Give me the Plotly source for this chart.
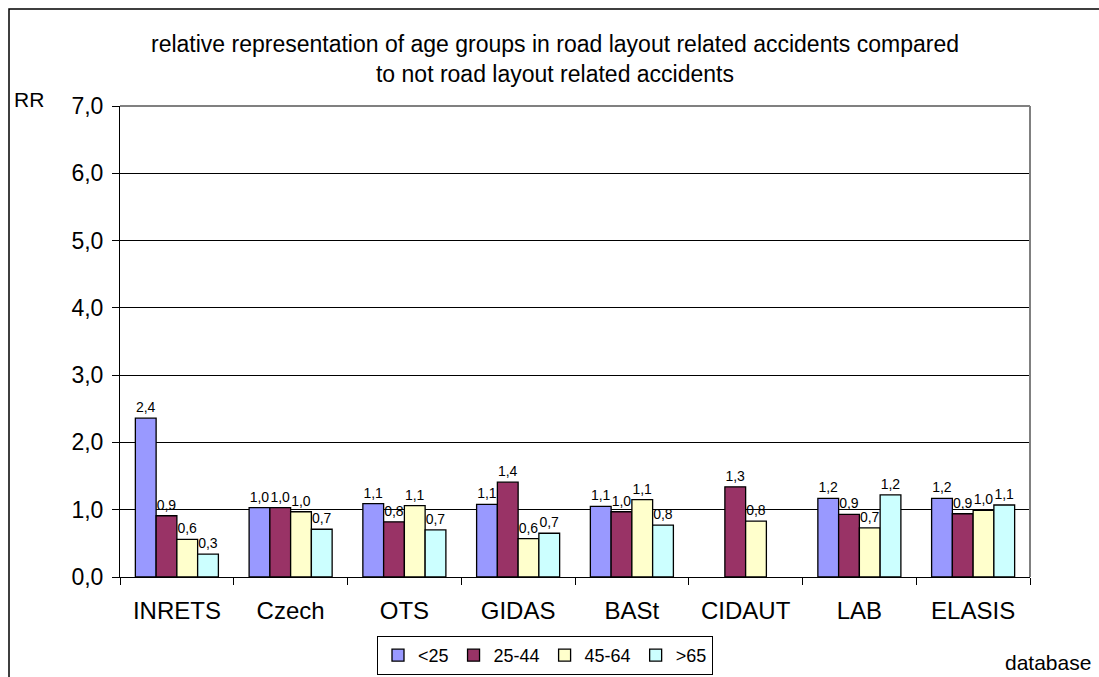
import plotly.graph_objects as go

# Databases on the x axis
databases = ["INRETS", "Czech", "OTS", "GIDAS", "BASt", "CIDAUT", "LAB", "ELASIS"]

# Relative representation (RR) per age group
rr_under25 = [2.36, 1.03, 1.09, 1.08, 1.05, None, 1.17, 1.17]
rr_25_44 = [0.91, 1.03, 0.82, 1.41, 0.97, 1.34, 0.93, 0.94]
rr_45_64 = [0.56, 0.97, 1.06, 0.57, 1.15, 0.83, 0.73, 0.99]
rr_over65 = [0.34, 0.71, 0.70, 0.65, 0.77, None, 1.22, 1.07]

y_ticks = [0, 1, 2, 3, 4, 5, 6, 7]

series = [
    ("<25", rr_under25, "#9999FF"),
    ("25-44", rr_25_44, "#993366"),
    ("45-64", rr_45_64, "#FFFFCC"),
    (">65", rr_over65, "#CCFFFF"),
]

FONT = "Liberation Sans, Arial, sans-serif"

fig = go.Figure()
for name, vals, color in series:
    fig.add_trace(go.Bar(
        x=databases,
        y=vals,
        name=name,
        marker=dict(color=color, line=dict(color="black", width=1.3)),
        texttemplate="%{y:.1f}",
        textposition="outside",
        textfont=dict(family=FONT, size=14, color="black"),
        cliponaxis=False,
    ))

# Plot area geometry in pixels (used for placing the outer frame and labels)
W, H = 1099, 677
L, R, T, B = 120, 69, 106, 100
pw, ph = W - L - R, H - T - B

def px_x(p):
    return (p - L) / pw

def px_y(p):
    return (H - B - p) / ph

fig.update_layout(
    width=W,
    height=H,
    margin=dict(l=L, r=R, t=T, b=B, autoexpand=False),
    paper_bgcolor="white",
    plot_bgcolor="white",
    separators=",.",
    barmode="group",
    bargap=0.27,
    bargroupgap=0,
    font=dict(family=FONT, color="black"),
    title=dict(
        text="relative representation of age groups in road layout related accidents compared<br>to not road layout related accidents",
        x=0.505,
        xanchor="center",
        y=1 - 52 / H,
        yanchor="middle",
        font=dict(family=FONT, size=23, color="black"),
    ),
    legend=dict(
        orientation="h",
        x=px_x(377),
        xanchor="left",
        y=px_y(636),
        yanchor="top",
        bordercolor="black",
        borderwidth=1,
        font=dict(family=FONT, size=18, color="black"),
        itemwidth=30,
        tracegroupgap=0,
    ),
    xaxis=dict(
        type="category",
        showline=True,
        linecolor="black",
        linewidth=1,
        ticks="outside",
        tickson="boundaries",
        ticklen=7,
        tickcolor="black",
        tickfont=dict(family=FONT, size=24, color="black"),
        ticklabelstandoff=12,
        showgrid=False,
    ),
    yaxis=dict(
        range=[0, 7],
        tickvals=y_ticks,
        tickformat=".1f",
        showline=True,
        linecolor="black",
        linewidth=1,
        ticks="outside",
        ticklen=7,
        tickcolor="black",
        tickfont=dict(family=FONT, size=23, color="black"),
        ticklabelstandoff=4,
        showgrid=True,
        gridcolor="black",
        gridwidth=1,
        zeroline=False,
    ),
    shapes=[
        # grey top and right edges of the plot area
        dict(type="line", xref="paper", yref="paper", x0=0, x1=1, y0=1, y1=1,
             line=dict(color="#808080", width=2), layer="above"),
        dict(type="line", xref="paper", yref="paper", x0=1, x1=1, y0=0, y1=1,
             line=dict(color="#808080", width=2), layer="above"),
        # outer chart frame
        dict(type="rect", xref="paper", yref="paper",
             x0=px_x(9), x1=px_x(1300), y0=px_y(9), y1=px_y(900),
             line=dict(color="black", width=1.5), fillcolor="rgba(0,0,0,0)", layer="above"),
    ],
    annotations=[
        dict(text="RR", xref="paper", yref="paper", x=px_x(12), y=px_y(99),
             xanchor="left", yanchor="middle", showarrow=False,
             font=dict(family=FONT, size=21, color="black")),
        dict(text="database", xref="paper", yref="paper", x=px_x(1093), y=px_y(662),
             xanchor="right", yanchor="middle", showarrow=False,
             font=dict(family=FONT, size=21, color="black")),
    ],
)

fig.write_html("out.html")
